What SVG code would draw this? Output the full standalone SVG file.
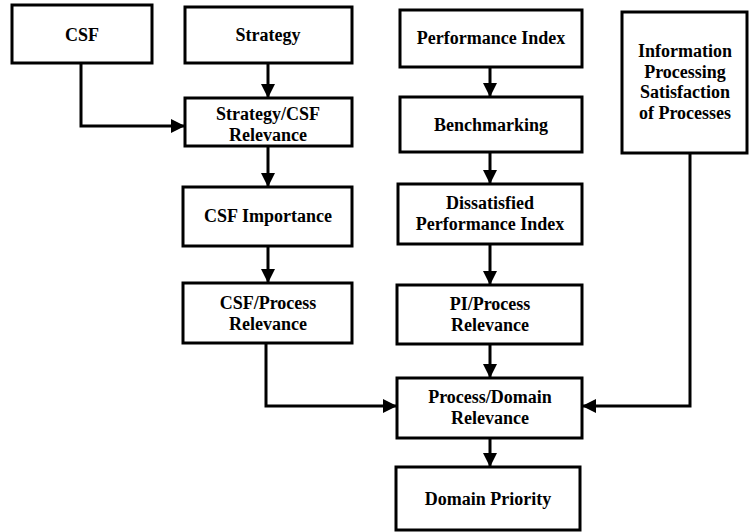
<svg xmlns="http://www.w3.org/2000/svg" width="750" height="532" viewBox="0 0 750 532">
<defs>
<style>
.box{fill:#fff;stroke:#000;stroke-width:3}
.lbl{font-family:"Liberation Serif","Times New Roman",serif;font-weight:bold;font-size:18px;fill:#000;text-anchor:middle}
.con{fill:none;stroke:#000;stroke-width:3}
</style>
<marker id="ah" markerUnits="userSpaceOnUse" markerWidth="14" markerHeight="14" viewBox="0 0 14 14" refX="14" refY="7" orient="auto">
<path d="M0,0 L14,7 L0,14 Z" fill="#000"/>
</marker>
</defs>
<rect width="750" height="532" fill="#fff"/>
<g id="connectors">
<path class="con" d="M81,63 V126 H185" marker-end="url(#ah)"/>
<path class="con" d="M268,63 V98" marker-end="url(#ah)"/>
<path class="con" d="M268,146 V187" marker-end="url(#ah)"/>
<path class="con" d="M268,246 V283" marker-end="url(#ah)"/>
<path class="con" d="M266,343 V406 H397" marker-end="url(#ah)"/>
<path class="con" d="M490,67 V97" marker-end="url(#ah)"/>
<path class="con" d="M490,152 V184" marker-end="url(#ah)"/>
<path class="con" d="M490,244 V285" marker-end="url(#ah)"/>
<path class="con" d="M490,344 V378" marker-end="url(#ah)"/>
<path class="con" d="M490,438 V467" marker-end="url(#ah)"/>
<path class="con" d="M690,153 V406 H582" marker-end="url(#ah)"/>
</g>
<g id="csf"><rect class="box" x="12" y="5" width="140" height="58"/><text class="lbl" x="82" y="41">CSF</text></g>
<g id="strategy"><rect class="box" x="185" y="7" width="167" height="56"/><text class="lbl" x="268" y="41">Strategy</text></g>
<g id="performance-index"><rect class="box" x="400" y="10" width="182" height="57"/><text class="lbl" x="491" y="44">Performance Index</text></g>
<g id="info-processing"><rect class="box" x="622" y="12" width="125" height="141"/><text class="lbl" x="685" y="57">Information</text><text class="lbl" x="685" y="77.5">Processing</text><text class="lbl" x="685" y="98">Satisfaction</text><text class="lbl" x="685" y="118.5">of Processes</text></g>
<g id="strategy-csf-relevance"><rect class="box" x="185" y="98" width="167" height="48"/><text class="lbl" x="268" y="120">Strategy/CSF</text><text class="lbl" x="268" y="141">Relevance</text></g>
<g id="benchmarking"><rect class="box" x="400" y="97" width="182" height="55"/><text class="lbl" x="491" y="131">Benchmarking</text></g>
<g id="csf-importance"><rect class="box" x="183" y="187" width="169" height="59"/><text class="lbl" x="268" y="222">CSF Importance</text></g>
<g id="dissatisfied-pi"><rect class="box" x="398" y="184" width="184" height="60"/><text class="lbl" x="490" y="209">Dissatisfied</text><text class="lbl" x="490" y="230">Performance Index</text></g>
<g id="csf-process-relevance"><rect class="box" x="183" y="283" width="169" height="60"/><text class="lbl" x="268" y="309">CSF/Process</text><text class="lbl" x="268" y="330">Relevance</text></g>
<g id="pi-process-relevance"><rect class="box" x="397" y="285" width="185" height="59"/><text class="lbl" x="490" y="310">PI/Process</text><text class="lbl" x="490" y="331">Relevance</text></g>
<g id="process-domain-relevance"><rect class="box" x="397" y="378" width="185" height="60"/><text class="lbl" x="490" y="403">Process/Domain</text><text class="lbl" x="490" y="424">Relevance</text></g>
<g id="domain-priority"><rect class="box" x="396" y="467" width="184" height="63"/><text class="lbl" x="488" y="505">Domain Priority</text></g>
</svg>
